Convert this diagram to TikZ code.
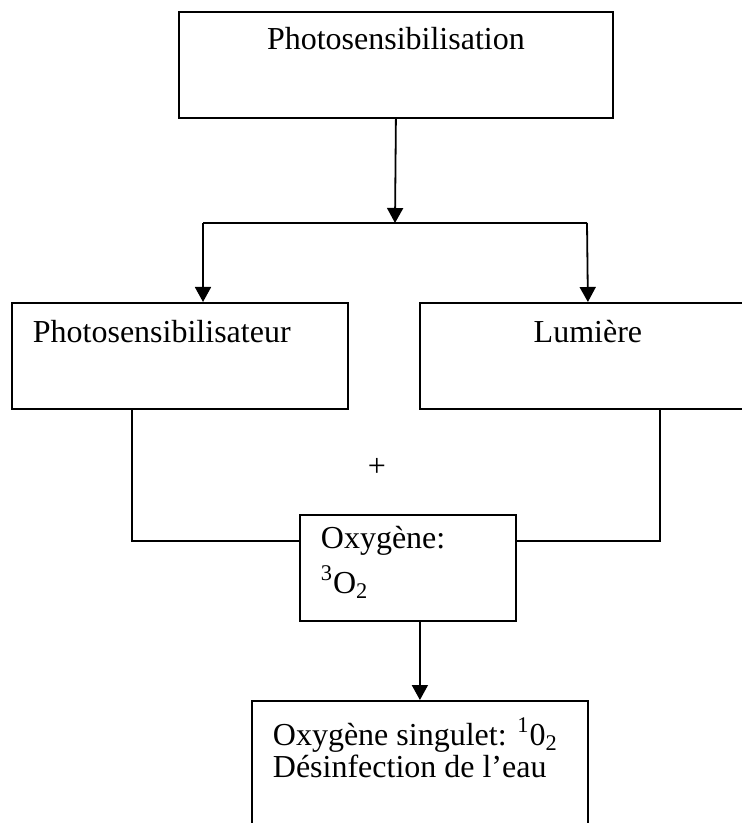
\documentclass[tikz,border=0pt]{standalone}
\usepackage{fontspec}
\setmainfont{Liberation Serif}
\usetikzlibrary{arrows.meta}

\begin{document}
\begin{tikzpicture}[x=0.5pt,y=-0.5pt,line width=0.9pt,
boite/.style={draw,rectangle,inner sep=0pt,anchor=north west,minimum height=53pt},
texte/.style={inner sep=0pt,font=\fontsize{16}{16}\selectfont,align=left},
fleche/.style={-{Triangle[length=7.5pt,width=8pt]}}
]
\useasboundingbox (0,0) rectangle (742,823);
\clip (0,0) rectangle (742,823);
\node[boite,minimum width=217pt] (photo) at (178,11) {};
\node[boite,minimum width=168pt] (psens) at (11,302) {};
\node[boite,minimum width=168pt] (lum) at (419,302) {};
\node[boite,minimum width=108pt] (oxy) at (299,514) {};
\node[boite,minimum width=168pt,minimum height=70pt] (sing) at (251,700) {};
\node[texte,anchor=base] (tphoto) at ([yshift=-19.5pt]photo.north) {Photosensibilisation};
\node[texte,anchor=base west] (tpsens) at ([shift={(10.5pt,-20.5pt)}]psens.north west) {Photosensibilisateur};
\node[texte,anchor=base] (tlum) at ([yshift=-20.5pt]lum.north) {Lumière};
\node[texte,anchor=base west] (toxy) at ([shift={(10.5pt,-39.5pt)}]oxy.north west) {Oxygène:\\[4pt]\textsuperscript{3}O\textsubscript{2}};
\node[texte,anchor=base west] (tsing) at ([shift={(10.5pt,-38.5pt)}]sing.north west) {Oxygène singulet: \textsuperscript{1}0\textsubscript{2}\\Désinfection de l’eau};
\node[texte] (plus) at (377,467) {+};
\coordinate (j) at (395,223);
\coordinate (jg) at (203,223);
\coordinate (jd) at (587,223);
\coordinate (ag) at ([yshift=-13.5pt]oxy.north west);
\coordinate (ad) at ([yshift=-13.5pt]oxy.north east);
\draw[fleche] (photo.south) -- (j);
\draw (jg) -- (jd);
\draw[fleche] (jg) -- (jg |- psens.north);
\draw[fleche] (jd) -- (lum.north);
\draw ([xshift=-24pt]psens.south) |- (ag);
\draw ([xshift=36pt]lum.south) |- (ad);
\draw[fleche] (sing.north |- oxy.south) -- (sing.north);
\end{tikzpicture}
\end{document}
